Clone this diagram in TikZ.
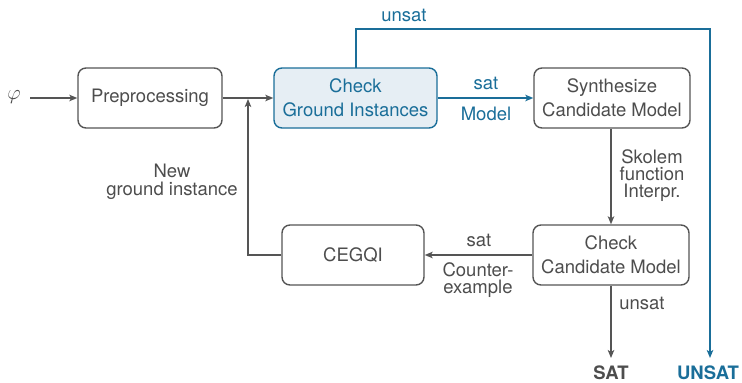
\documentclass[tikz,border=0pt]{standalone}
\usepackage{fontspec}
\setmainfont{TeX Gyre Heros}
\usetikzlibrary{arrows.meta}
\definecolor{cgray}{HTML}{555555}
\definecolor{tgray}{HTML}{4D4D4D}
\definecolor{cblue}{HTML}{1A6E99}
\definecolor{lblue}{HTML}{E6EEF4}
\begin{document}
\begin{tikzpicture}[x=1pt,y=-1pt,
  font=\fontsize{18.5}{23.5}\selectfont,
  box/.style={draw=cgray,line width=1.4pt,rounded corners=8pt,minimum height=60pt,align=center,text=tgray,inner sep=0pt},
  hbox/.style={box,draw=cblue,fill=lblue,text=cblue},
  lab/.style={text=tgray,align=center,inner sep=0pt,font=\fontsize{18.5}{17}\selectfont},
  blab/.style={lab,text=cblue},
  arr/.style={draw=cgray,line width=1.4pt,-{Stealth[length=8pt,width=6.5pt,inset=2pt]}},
  barr/.style={arr,draw=cblue}]
\useasboundingbox (0,0) rectangle (742,383);
\node[box,minimum width=144pt] (pre) at (150,98) {Preprocessing};
\node[hbox,minimum width=163pt] (cgi) at (355.5,98) {Check\\Ground Instances};
\node[box,minimum width=156pt] (syn) at (612,98) {Synthesize\\Candidate Model};
\node[box,minimum width=156pt] (ccm) at (611,255) {Check\\Candidate Model};
\node[box,minimum width=142pt] (ceg) at (353,255) {CEGQI};
\node[text=tgray,inner sep=0pt,font=\fontsize{20}{20}\selectfont] (phi) at (14,97) {$\varphi$};
\coordinate (phiend) at (30,98);
\coordinate (sat) at (611,358);
\coordinate (unsat) at (710,358);
\node[lab,font=\fontsize{18.5}{18}\bfseries] (SATt) at (611,373) {SAT};
\node[blab,font=\fontsize{18.5}{18}\bfseries] (UNSATt) at (708,373) {UNSAT};
\draw[arr] (phiend) -- (pre.west);
\draw[arr] (pre.east) -- (cgi.west);
\draw[barr] (cgi.east) -- (syn.west);
\draw[arr] (syn.south -| ccm.north) -- (ccm.north);
\draw[arr] (ccm.west) -- (ceg.east);
\draw[arr] (ceg.west) -- (248,255) -- (248,99);
\draw[arr] (ccm.south) -- (sat);
\draw[barr] (356,68) -- (356,29) -- (710,29) -- (unsat);
\node[blab] (l1) at (404,15) {unsat};
\node[blab] (l2) at (486,83) {sat};
\node[blab] (l3) at (486,114) {Model};
\node[lab] (l4) at (652,176) {Skolem\\function\\Interpr.};
\node[lab] (l5) at (479,240) {sat};
\node[lab] (l6) at (478,280) {Counter-\\example};
\node[lab] (l7) at (642,303) {unsat};
\node[lab,font=\fontsize{18.5}{18}\selectfont] (l8) at (172,182) {New\\ground instance};
\end{tikzpicture}
\end{document}
